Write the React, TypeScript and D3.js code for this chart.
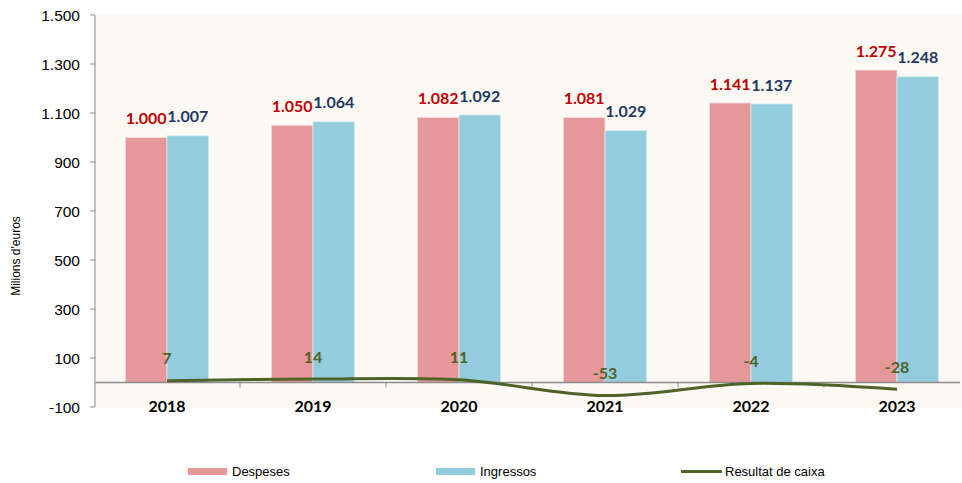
import React from "react";
import * as d3 from "d3";

const years = ["2018", "2019", "2020", "2021", "2022", "2023"];
const despeses = [1000, 1050, 1082, 1081, 1141, 1275];
const ingressos = [1007, 1064, 1092, 1029, 1137, 1248];
const resultat = [7, 14, 11, -53, -4, -28];
const yTicks = [-100, 100, 300, 500, 700, 900, 1100, 1300, 1500];

const fmt = (v: number) => {
  const s = Math.abs(v).toString();
  const withDots = s.replace(/\B(?=(\d{3})+(?!\d))/g, ".");
  return (v < 0 ? "-" : "") + withDots;
};

const W = 962;
const H = 483;
const left = 95;
const top = 15;
const bottom = 407;

export default function App() {
  const y = d3.scaleLinear().domain([-100, 1500]).range([bottom, top]);
  const x = d3.scaleBand<string>().domain(years).range([94, 970]).paddingInner(0.43).paddingOuter(0.215);
  const x1 = d3.scaleBand<string>().domain(["d", "i"]).range([0, x.bandwidth()]);
  const cx = (yr: string) => (x(yr) as number) + x.bandwidth() / 2;

  const line = d3
    .line<number>()
    .x((_, i) => cx(years[i]))
    .y((v) => y(v))
    .curve(d3.curveCatmullRom.alpha(0.5));

  const red = "#E6979A";
  const blue = "#93CDDD";
  const green = "#4F6228";
  const labelFont = "Lato, 'Open Sans', sans-serif";
  const arial = "'Liberation Sans', Arial, sans-serif";

  return (
    <svg width={W} height={H} style={{ position: "absolute", left: 0, top: 0, background: "#fff" }}>
      <rect x={left} y={top} width={W - left} height={bottom - top + 1} fill="#FDFAF5" />
      {/* y axis */}
      <line x1={left} x2={left} y1={top} y2={bottom} stroke="#8C8C8C" strokeWidth={1} />
      {yTicks.map((t) => (
        <g key={t}>
          <line x1={left - 5} x2={left} y1={y(t)} y2={y(t)} stroke="#8C8C8C" />
          <text x={80} y={y(t)} dy="0.36em" textAnchor="end" fontFamily={arial} fontSize={15.5} fill="#000">
            {fmt(t)}
          </text>
        </g>
      ))}
      <text
        transform={`translate(20,${(top + bottom) / 2 + 45}) rotate(-90)`}
        textAnchor="middle"
        fontFamily={arial}
        fontSize={12}
        fill="#000"
      >
        Milions d'euros
      </text>
      {/* bars */}
      {years.map((yr, i) => {
        const bx = x(yr) as number;
        return (
          <g key={yr}>
            <rect
              x={bx + (x1("d") as number)}
              y={y(despeses[i])}
              width={x1.bandwidth()}
              height={y(0) - y(despeses[i])}
              fill={red}
              stroke="#F6DCDC"
              strokeWidth={0.8}
            />
            <rect
              x={bx + (x1("i") as number)}
              y={y(ingressos[i])}
              width={x1.bandwidth()}
              height={y(0) - y(ingressos[i])}
              fill={blue}
              stroke="#D6EEF4"
              strokeWidth={0.8}
            />
          </g>
        );
      })}
      {/* x axis */}
      <line x1={left} x2={W - 2} y1={y(0)} y2={y(0)} stroke="#8C8C8C" strokeWidth={1.5} />
      {years.slice(1).map((yr) => (
        <line
          key={yr}
          x1={cx(yr) - 73}
          x2={cx(yr) - 73}
          y1={y(0)}
          y2={y(0) + 5}
          stroke="#8C8C8C"
        />
      ))}
      {years.map((yr) => (
        <text
          key={yr}
          x={cx(yr)}
          y={412}
          textAnchor="middle"
          fontFamily={labelFont}
          fontWeight="bold"
          fontSize={16}
          fill="#000"
        >
          {yr}
        </text>
      ))}
      {/* bar labels */}
      {years.map((yr, i) => {
        const bx = x(yr) as number;
        return (
          <g key={yr}>
            <text
              x={bx + (x1("d") as number) + x1.bandwidth() / 2}
              y={y(despeses[i]) - 19}
              dy="0.35em"
              textAnchor="middle"
              fontFamily={labelFont}
              fontWeight="bold"
              fontSize={16}
              fill="#C00000"
            >
              {fmt(despeses[i])}
            </text>
            <text
              x={bx + (x1("i") as number) + x1.bandwidth() / 2}
              y={y(ingressos[i]) - 19}
              dy="0.35em"
              textAnchor="middle"
              fontFamily={labelFont}
              fontWeight="bold"
              fontSize={16}
              fill="#1F3864"
            >
              {fmt(ingressos[i])}
            </text>
          </g>
        );
      })}
      {/* line */}
      <path d={line(resultat) as string} fill="none" stroke={green} strokeWidth={3} />
      {resultat.map((v, i) => (
        <text
          key={i}
          x={cx(years[i])}
          y={y(v) - 22}
          dy="0.35em"
          textAnchor="middle"
          fontFamily={labelFont}
          fontWeight="bold"
          fontSize={16}
          fill={green}
        >
          {fmt(v)}
        </text>
      ))}
      {/* legend */}
      <rect x={188} y={468} width={39} height={7} fill={red} />
      <text x={232} y={476} fontFamily={arial} fontSize={13} fill="#000">Despeses</text>
      <rect x={436} y={468} width={39} height={7} fill={blue} />
      <text x={480} y={476} fontFamily={arial} fontSize={13} fill="#000">Ingressos</text>
      <line x1={681} x2={722} y1={471.5} y2={471.5} stroke={green} strokeWidth={3} />
      <text x={725} y={476} fontFamily={arial} fontSize={13} fill="#000">Resultat de caixa</text>
    </svg>
  );
}
